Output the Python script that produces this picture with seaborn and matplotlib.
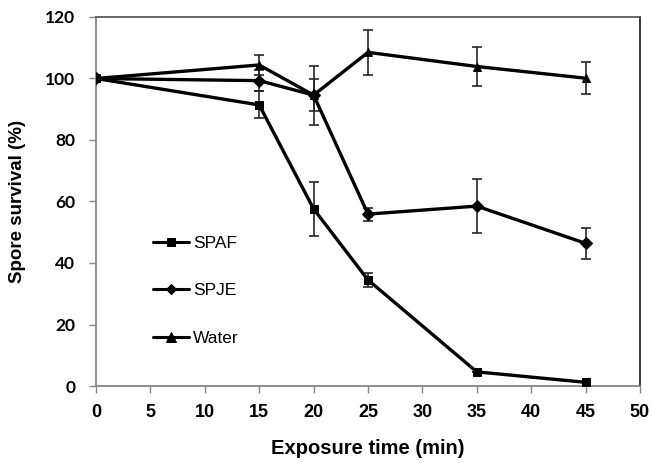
import numpy as np
import pandas as pd
import matplotlib
matplotlib.use("Agg")
import matplotlib.pyplot as plt
import seaborn as sns

sns.set_style("ticks")
plt.rcParams["text.color"] = "black"
plt.rcParams["axes.labelcolor"] = "black"
plt.rcParams["xtick.labelcolor"] = "black"
plt.rcParams["ytick.labelcolor"] = "black"

# data
times = [0, 15, 20, 25, 35, 45]
spaf = [100, 91.4, 57.6, 34.5, 4.6, 1.2]
spaf_err = [0, 4.4, 8.8, 2.4, 0, 0]
spje = [100, 99.3, 94.6, 55.9, 58.5, 46.4]
spje_err = [0, 3.5, 5.2, 2.1, 8.7, 5.0]
water = [100, 104.4, 94.6, 108.5, 103.9, 100.1]
water_err = [0, 3.4, 9.6, 7.3, 6.2, 5.2]
series = ["SPAF", "SPJE", "Water"]
xticks = list(range(0, 51, 5))
yticks = list(range(0, 121, 20))

df = pd.DataFrame({
    "time": times * 3,
    "survival": spaf + spje + water,
    "err": spaf_err + spje_err + water_err,
    "treatment": np.repeat(series, len(times)),
})

fig = plt.figure(figsize=(6.51, 4.63), dpi=100)
ax = fig.add_axes([0.1475, 0.1663, 0.8355, 0.797])

# error bars first so lines sit on top
for name in series:
    d = df[df["treatment"] == name]
    ax.errorbar(d["time"], d["survival"], yerr=d["err"], fmt="none",
                ecolor="#262626", elinewidth=1.2, capsize=3.5, capthick=1.2, zorder=1)

markers = {"SPAF": "s", "SPJE": "D", "Water": "^"}
sizes = {"SPAF": 7.5, "SPJE": 6, "Water": 8}
sns.lineplot(data=df, x="time", y="survival", hue="treatment", style="treatment",
             markers=markers, dashes=False, palette=["black"] * 3, linewidth=2.4,
             markeredgecolor="black", ax=ax, zorder=3, legend=True)
for line, name in zip(ax.get_lines()[-3:], series):
    line.set_markersize(sizes[name])

ax.set_xlim(0, 50)
ax.set_ylim(0, 120)
ax.set_xticks(xticks, labels=[str(t) for t in xticks], fontfamily="Liberation Sans",
              fontweight="bold", fontsize=13, color="black")
ax.set_yticks(yticks, labels=[str(t) for t in yticks], fontfamily="Lato",
              fontweight="bold", fontsize=12.5, color="black")
ax.tick_params(axis="both", direction="out", length=5, width=1, color="#868686")
ax.tick_params(axis="y", pad=10)
ax.tick_params(axis="x", pad=8)

ax.set_xlabel("Exposure time (min)", fontfamily="Liberation Sans", fontweight="bold",
              fontsize=14.5, labelpad=13, color="black")
ax.set_ylabel("Spore survival (%)", fontfamily="Liberation Sans", fontweight="bold",
              fontsize=13.5, labelpad=14, color="black")

for s in ["left", "bottom"]:
    ax.spines[s].set_color("#868686")
    ax.spines[s].set_linewidth(1.3)
ax.spines["top"].set_color("#595959")
ax.spines["right"].set_color("#262626")
for s in ["top", "right"]:
    ax.spines[s].set_visible(True)
    ax.spines[s].set_linewidth(1.3)

leg = ax.legend(loc="center left", bbox_to_anchor=(0.104, 0.258), frameon=False,
                prop={"family": "Liberation Sans", "size": 12.5}, labelspacing=1.85,
                handlelength=2.1, handletextpad=0.25, borderpad=0, borderaxespad=0)
for h, name in zip(leg.legend_handles, series):
    h.set_markersize(sizes[name] * 0.85)
    h.set_linewidth(2.2)
for t in leg.get_texts():
    t.set_color("black")

fig.savefig("out.png", dpi=100)
